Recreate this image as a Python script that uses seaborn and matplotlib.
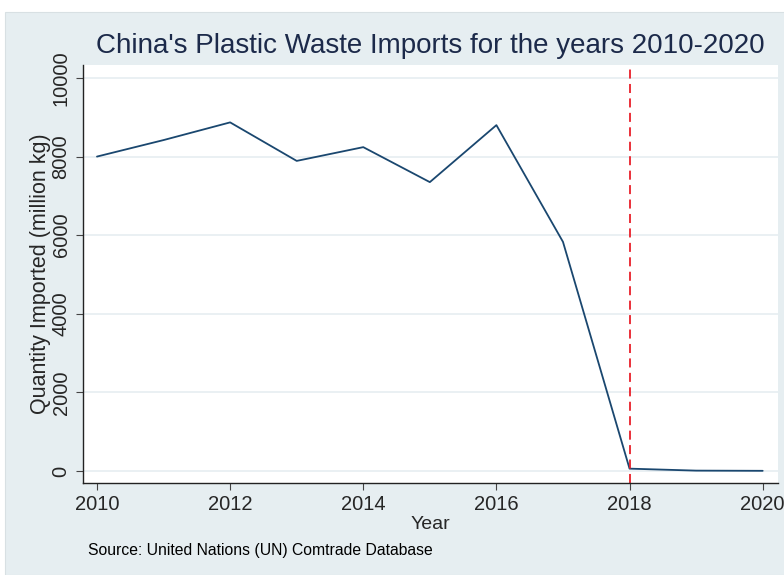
import numpy as np
import pandas as pd
import matplotlib
matplotlib.use('Agg')
import matplotlib.pyplot as plt
import seaborn as sns
from matplotlib.patches import Rectangle

# China plastic waste imports, million kg
years = [2010, 2011, 2012, 2013, 2014, 2015, 2016, 2017, 2018, 2019, 2020]
quantity = [8000, 8420, 8870, 7890, 8240, 7350, 8800, 5830, 60, 10, 5]
ban_year = 2018

df = pd.DataFrame({'Year': years, 'Quantity': quantity})

sns.set_style('white')
plt.rcParams['font.family'] = ['Liberation Sans', 'DejaVu Sans']

bg = '#e6eef1'
navy = '#1a476f'

fig = plt.figure(figsize=(7.84, 5.75), dpi=100, facecolor='white')
# graph region background (picture is cropped a bit on top/left)
fig.patches.append(Rectangle((5 / 784, 0), 1, (575 - 12) / 575, transform=fig.transFigure,
                             facecolor=bg, edgecolor='#d8e0e3', lw=0.8, zorder=-1))
ax = fig.add_axes([83 / 784, (575 - 483) / 575, (778 - 83) / 784, (483 - 65) / 575])
ax.set_facecolor('white')

sns.lineplot(data=df, x='Year', y='Quantity', ax=ax, color=navy, lw=1.3)
ax.axvline(ban_year, color='#e8202a', ls=(0, (5, 3)), lw=1.3)

ax.set_xlim(2009.79, 2020.23)
ax.set_ylim(-305, 10330)
ax.set_xticks(range(2010, 2021, 2))
ax.set_yticks(range(0, 10001, 2000))
ax.yaxis.grid(True, color='#e6eef1', lw=1.2)
ax.set_axisbelow(True)
for s in ['top', 'right']:
    ax.spines[s].set_visible(False)
for s in ['left', 'bottom']:
    ax.spines[s].set_color('#222222')
    ax.spines[s].set_linewidth(1.0)
ax.tick_params(axis='both', which='both', direction='out', length=5, width=0.8,
               color='#444444', labelsize=14.5, left=True, bottom=True, pad=4)
plt.setp(ax.get_yticklabels(), rotation=90, va='center')

ax.set_xlabel('Year', fontsize=14, labelpad=1)
ax.set_ylabel('Quantity Imported (million kg)', fontsize=15.5, labelpad=0)
fig.text(430 / 784, 1 - 46 / 575, "China's Plastic Waste Imports for the years 2010-2020",
         ha='center', va='center', fontsize=20, color='#1c2a4a')
fig.text(88 / 784, 1 - 550 / 575, 'Source: United Nations (UN) Comtrade Database',
         ha='left', va='center', fontsize=11.3, color='black')

fig.savefig('out.png', dpi=100, facecolor=fig.get_facecolor())
